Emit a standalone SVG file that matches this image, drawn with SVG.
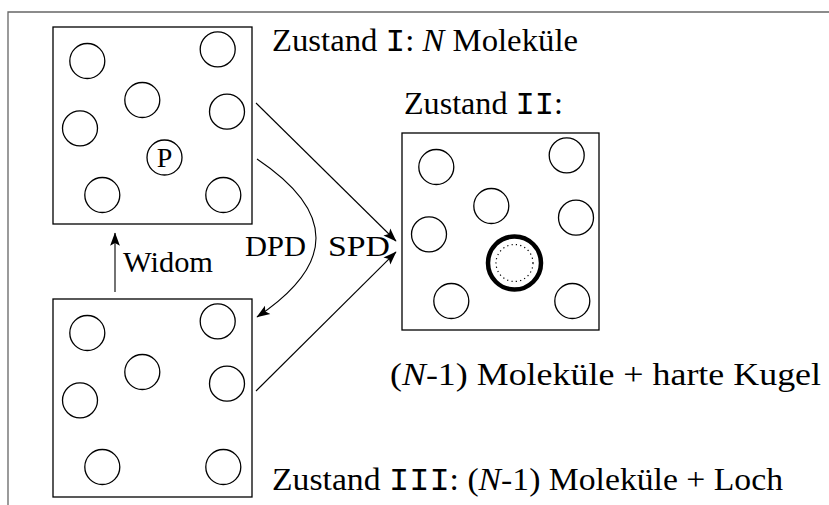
<svg xmlns="http://www.w3.org/2000/svg" xmlns:xlink="http://www.w3.org/1999/xlink" width="829" height="505" viewBox="0 0 829 505">
<style>
.frame{fill:none;stroke:#666;stroke-width:1.3}
.box{fill:none;stroke:#000;stroke-width:1.3}
.mol{fill:none;stroke:#000;stroke-width:1.3}
.conn{fill:none;stroke:#000;stroke-width:1.1}
.t{font-family:"Liberation Serif","Times New Roman",serif;font-size:32px;fill:#000}
.lbl{font-family:"Liberation Serif","Times New Roman",serif;font-size:29px;fill:#000}
.tt{font-family:"Liberation Mono","DejaVu Sans Mono",monospace}
.it{font-style:italic}
</style>
<defs>
<marker id="ah" markerUnits="userSpaceOnUse" markerWidth="14" markerHeight="14" viewBox="0 -5 12 10" refX="11" refY="0" orient="auto">
<path d="M0,-4.2 L11.5,0 L0,4.2 L2.5,0 z" fill="#000"/>
</marker>
<g id="mols">
<circle class="mol" cx="34.3" cy="34" r="17.5"/>
<circle class="mol" cx="164.7" cy="22.3" r="17.5"/>
<circle class="mol" cx="89.3" cy="73" r="17.5"/>
<circle class="mol" cx="174" cy="84.7" r="17.5"/>
<circle class="mol" cx="27" cy="101.3" r="17.5"/>
<circle class="mol" cx="49.3" cy="168" r="17.5"/>
<circle class="mol" cx="170.3" cy="168" r="17.5"/>
</g>
</defs>
<rect width="829" height="505" fill="#fff"/>
<path class="frame" d="M8,505 V12 H829"/>

<g id="state1">
<rect class="box" x="53" y="27" width="199" height="197"/>
<use xlink:href="#mols" transform="translate(53,27)"/>
<circle class="mol" cx="164.5" cy="157.5" r="17.5"/>
<text x="164.5" y="167" text-anchor="middle" style="font-family:'Liberation Serif','Times New Roman',serif;font-size:28px">P</text>
<text class="t" x="272" y="51" textLength="306" lengthAdjust="spacingAndGlyphs">Zustand <tspan class="tt">I</tspan>: <tspan class="it">N</tspan> Moleküle</text>
</g>

<g id="state2">
<rect class="box" x="402" y="133" width="197" height="197"/>
<use xlink:href="#mols" transform="translate(402,133)"/>
<circle cx="514.5" cy="263" r="26.5" fill="none" stroke="#000" stroke-width="4.5"/>
<circle cx="514.5" cy="263" r="18.5" fill="none" stroke="#000" stroke-width="1.2" stroke-dasharray="1.2 3.2"/>
<text class="t" x="404" y="114" textLength="159" lengthAdjust="spacingAndGlyphs">Zustand <tspan class="tt">II</tspan>:</text>
<text class="t" x="390" y="385" textLength="431" lengthAdjust="spacingAndGlyphs">(<tspan class="it">N</tspan>-1) Moleküle + harte Kugel</text>
</g>

<g id="state3">
<rect class="box" x="53" y="299" width="199" height="198"/>
<use xlink:href="#mols" transform="translate(53,299)"/>
<text class="t" x="272" y="490" textLength="511" lengthAdjust="spacingAndGlyphs">Zustand <tspan class="tt">III</tspan>: (<tspan class="it">N</tspan>-1) Moleküle + Loch</text>
</g>

<g id="connectors">
<line class="conn" x1="115" y1="292" x2="115" y2="233" marker-end="url(#ah)"/>
<line class="conn" x1="256" y1="103" x2="396" y2="241" marker-end="url(#ah)"/>
<line class="conn" x1="256" y1="391" x2="396" y2="252" marker-end="url(#ah)"/>
<path class="conn" d="M257,159 Q375,238 257,317" marker-end="url(#ah)"/>
<text class="lbl" x="123" y="272" textLength="90" lengthAdjust="spacingAndGlyphs">Widom</text>
<text class="lbl" x="245" y="256" textLength="61" lengthAdjust="spacingAndGlyphs">DPD</text>
<text class="lbl" x="328" y="256" textLength="62" lengthAdjust="spacingAndGlyphs">SPD</text>
</g>
</svg>
